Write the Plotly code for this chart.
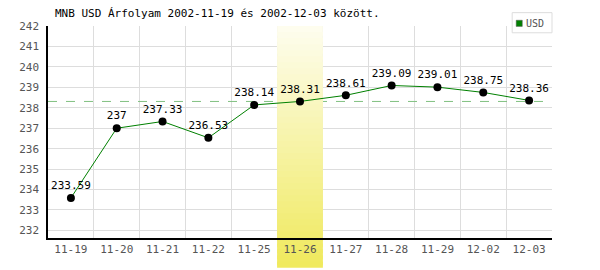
import plotly.graph_objects as go
import numpy as np

dates = ["11-19", "11-20", "11-21", "11-22", "11-25", "11-26", "11-27", "11-28", "11-29", "12-02", "12-03"]
usd = [233.59, 237.00, 237.33, 236.53, 238.14, 238.31, 238.61, 239.09, 239.01, 238.75, 238.36]
labels = ["233.59", "237", "237.33", "236.53", "238.14", "238.31", "238.61", "239.09", "239.01", "238.75", "238.36"]
y_ticks = [232, 233, 234, 235, 236, 237, 238, 239, 240, 241, 242]
highlight_idx = 5
ref_value = 238.31

FONT = "DejaVu Sans Mono"
xs = list(range(len(dates)))
YMIN, YMAX = 231.63, 242

fig = go.Figure()
fig.add_trace(go.Scatter(
    x=xs, y=usd, mode="lines+markers+text",
    line=dict(color="#008000", width=1),
    marker=dict(color="black", size=8),
    text=labels, textposition="top center",
    textfont=dict(family=FONT, size=11, color="black"),
    cliponaxis=False, showlegend=False, hoverinfo="skip",
))

shapes = []
# reference dashed line
shapes.append(dict(type="line", xref="x", yref="y", x0=-0.5, x1=len(dates) - 0.5, y0=ref_value, y1=ref_value,
                   line=dict(color="#80c080", width=1, dash="dash"), layer="between"))
# gradient highlight band
n = 40
y0p, y1p = -0.14, 1.0
top = np.array([0xfe, 0xfd, 0xee])
bot = np.array([0xf0, 0xea, 0x5e])
step = (y1p - y0p) / n
def to_data(f):
    return YMIN + f * (YMAX - YMIN)
for i in range(n):
    t = i / (n - 1)
    c = top + (bot - top) * t
    ya = y1p - step * i
    yb = max(y0p, ya - step * 1.6)
    col = "rgb(%d,%d,%d)" % tuple(c.astype(int))
    if yb < 0:
        shapes.append(dict(type="rect", xref="x", yref="paper",
                           x0=highlight_idx - 0.5, x1=highlight_idx + 0.5,
                           y0=yb, y1=min(ya, 0.0), line=dict(width=0),
                           fillcolor=col, layer="below"))
    if ya > 0:
        shapes.append(dict(type="rect", xref="x", yref="y",
                           x0=highlight_idx - 0.5, x1=highlight_idx + 0.5,
                           y0=to_data(max(yb, 0.0)), y1=to_data(ya), line=dict(width=0),
                           fillcolor=col, layer="between"))
# legend box
shapes.append(dict(type="rect", xref="paper", yref="paper", x0=0.921, x1=1.0, y0=0.968, y1=1.063,
                   line=dict(color="#dddddd", width=1), fillcolor="white", layer="above"))
shapes.append(dict(type="rect", xref="paper", yref="paper", x0=0.929, x1=0.941, y0=0.998, y1=1.027,
                   line=dict(color="#555555", width=0.5), fillcolor="#008000", layer="above"))

fig.update_layout(
    width=600, height=270,
    margin=dict(l=48, r=48, t=26, b=32),
    paper_bgcolor="white", plot_bgcolor="white",
    font=dict(family=FONT, size=11, color="#555555"),
    shapes=shapes,
    annotations=[
        dict(text="MNB USD Árfolyam 2002-11-19 és 2002-12-03 között.", xref="paper", yref="paper",
             x=0.01, y=1.0, xanchor="left", yanchor="bottom", yshift=4, showarrow=False,
             font=dict(family=FONT, size=11, color="black")),
        dict(text="USD", xref="paper", yref="paper", x=0.944, y=1.012, xanchor="left", yanchor="middle",
             showarrow=False, font=dict(family=FONT, size=10, color="#555555")),
    ],
    xaxis=dict(range=[-0.5, len(dates) - 0.5], tickvals=xs, ticktext=dates,
               showgrid=False, zeroline=False, showline=True, linecolor="black", linewidth=1.5,
               ticks="", tickfont=dict(family=FONT, size=11, color="#555555"),
               minor=dict(tickvals=[i + 0.5 for i in xs], showgrid=True, gridcolor="#dddddd", gridwidth=1, ticks="")),
    yaxis=dict(range=[YMIN, YMAX], tickvals=y_ticks, showgrid=True, gridcolor="#dddddd",
               zeroline=False, showline=True, linecolor="black", linewidth=1.5,
               ticks="", ticklabelstandoff=5, tickfont=dict(family=FONT, size=11, color="#555555")),
)

fig.write_html("out.html")
